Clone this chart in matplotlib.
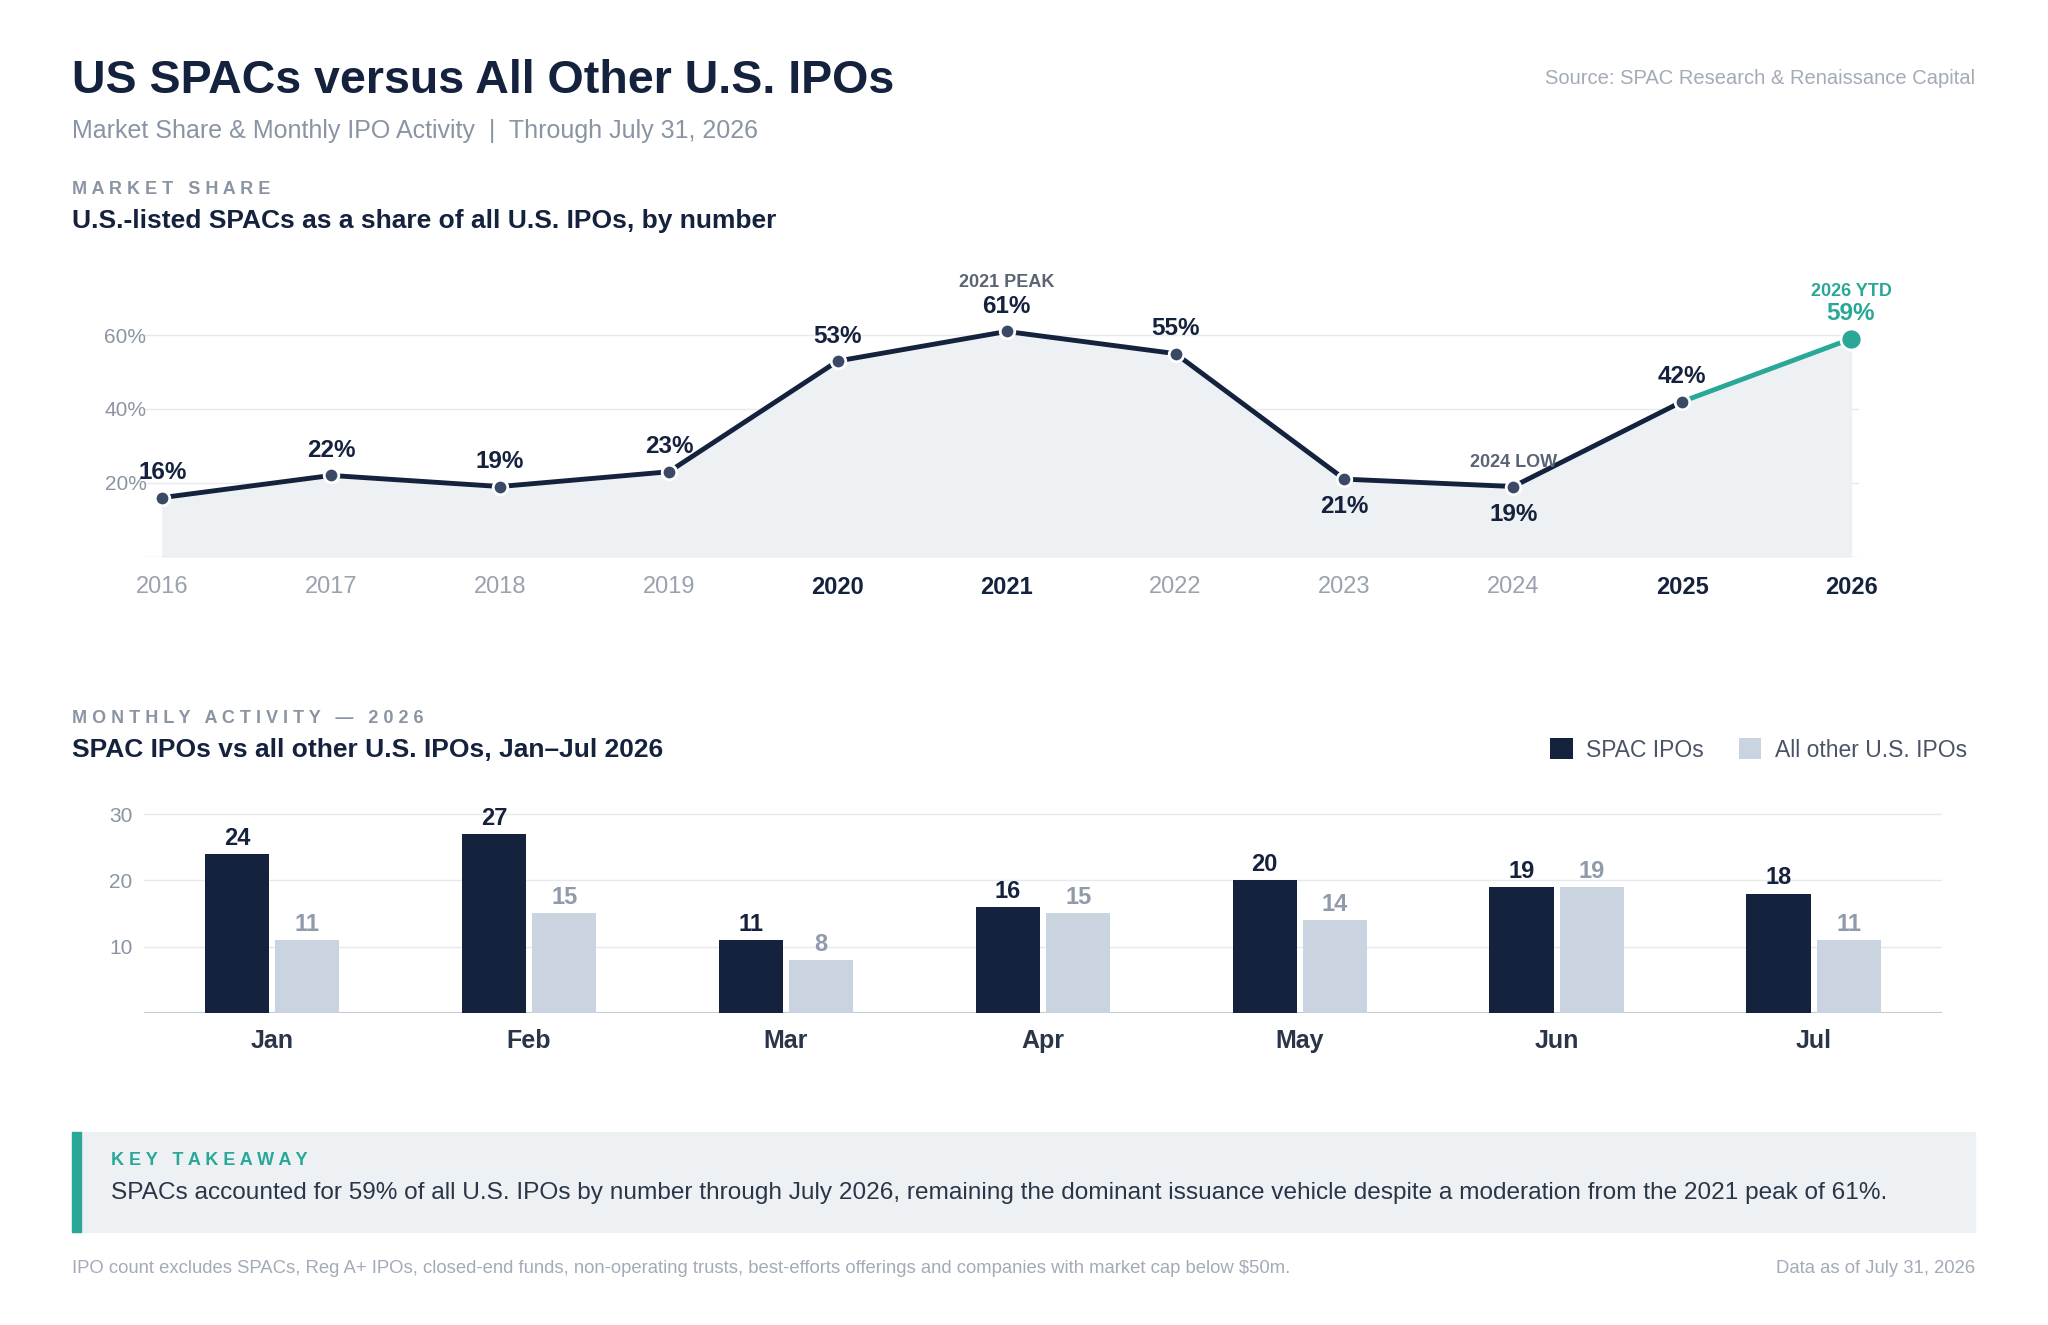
import matplotlib
matplotlib.use("Agg")
import matplotlib.pyplot as plt
from matplotlib.patches import Rectangle

plt.rcParams['font.family'] = ['Liberation Sans', 'DejaVu Sans']

years = [2016, 2017, 2018, 2019, 2020, 2021, 2022, 2023, 2024, 2025, 2026]
share = [16, 22, 19, 23, 53, 61, 55, 21, 19, 42, 59]
bold_years = [2020, 2021, 2025, 2026]
months = ["Jan", "Feb", "Mar", "Apr", "May", "Jun", "Jul"]
spac = [24, 27, 11, 16, 20, 19, 18]
other = [11, 15, 8, 15, 14, 19, 11]

NAVY = "#15223d"
TEAL = "#2aa897"
GRAY = "#8a94a3"
LIGHT = "#c9d4e0"
FILL = "#eef1f4"
W, H = 1568, 1014

fig = plt.figure(figsize=(20.48, 13.25), dpi=100)
fig.patch.set_facecolor("white")

def T(x, y, s, **kw):
    fig.text(x / W, 1 - y / H, s, **kw)

T(55, 62, "US SPACs versus All Other U.S. IPOs", fontsize=33.5, fontweight="bold", color=NAVY, va="center")
T(55, 100, "Market Share & Monthly IPO Activity  |  Through July 31, 2026", fontsize=18, color=GRAY, va="center")
T(1512, 60, "Source: SPAC Research & Renaissance Capital", fontsize=14.5, color="#a3abb7", va="center", ha="right")
T(55, 145, "M A R K E T   S H A R E", fontsize=13, fontweight="bold", color=GRAY, va="center")
T(55, 169, "U.S.-listed SPACs as a share of all U.S. IPOs, by number", fontsize=19, fontweight="bold", color=NAVY, va="center")

# line chart
ax = fig.add_axes([110 / W, 1 - 426 / H, 1313 / W, 226 / H])
ax.set_xlim(2015.89, 2026.045)
ax.set_ylim(0, 80)
for s in ax.spines.values():
    s.set_visible(False)
ax.set_yticks([20, 40, 60])
ax.set_yticklabels(["20%", "40%", "60%"])
ax.tick_params(axis="y", length=0, labelsize=15, labelcolor=GRAY, pad=-2)
ax.yaxis.grid(True, color="#e6e9ed", lw=1)
ax.set_axisbelow(True)
ax.set_xticks(years)
ax.set_xticklabels([str(y) for y in years])
ax.tick_params(axis="x", length=0, labelsize=17, pad=14)
for lab, y in zip(ax.get_xticklabels(), years):
    if y in bold_years:
        lab.set_fontweight("bold"); lab.set_color(NAVY)
    else:
        lab.set_color("#9aa2ae")
ax.fill_between(years, share, 0, color=FILL, zorder=1)
ax.axhline(0, color="#dde1e6", lw=1)
ax.plot(years[:-1], share[:-1], color=NAVY, lw=3.5, zorder=3)
ax.plot(years[-2:], share[-2:], color=TEAL, lw=3.5, zorder=3)
ax.scatter(years[:-1], share[:-1], s=110, color="#3a4a66", edgecolor="white", linewidth=2, zorder=4, clip_on=False)
ax.scatter(years[-1:], share[-1:], s=230, color=TEAL, edgecolor="white", linewidth=2, zorder=4, clip_on=False)
for y, v in zip(years, share):
    below = y in (2023, 2024)
    col = TEAL if y == 2026 else NAVY
    ax.annotate(f"{v}%", (y, v), xytext=(0, -20 if below else 18), textcoords="offset points",
                ha="center", va="center", fontsize=17.5, fontweight="bold", color=col)
ax.annotate("2021 PEAK", (2021, 61), xytext=(0, 35), textcoords="offset points", ha="center", va="center",
            fontsize=13, fontweight="bold", color="#5a6475")
ax.annotate("2024 LOW", (2024, 19), xytext=(0, 17), textcoords="offset points", ha="center", va="center",
            fontsize=13, fontweight="bold", color="#5a6475")
ax.annotate("2026 YTD", (2026, 59), xytext=(0, 34), textcoords="offset points", ha="center", va="center",
            fontsize=13, fontweight="bold", color=TEAL)

# bar chart
T(55, 550, "M O N T H L Y   A C T I V I T Y   —   2 0 2 6", fontsize=13, fontweight="bold", color=GRAY, va="center")
T(55, 574, "SPAC IPOs vs all other U.S. IPOs, Jan–Jul 2026", fontsize=19, fontweight="bold", color=NAVY, va="center")
bx = fig.add_axes([110 / W, 1 - 775 / H, 1377 / W, 162 / H])
bx.set_xlim(-0.5, 6.5)
bx.set_ylim(0, 32)
for s in bx.spines.values():
    s.set_visible(False)
bx.axhline(0, color="#c4cad2", lw=1.5)
bx.set_yticks([10, 20, 30])
bx.tick_params(axis="y", length=0, labelsize=15, labelcolor=GRAY, pad=8)
bx.yaxis.grid(True, color="#e6e9ed", lw=1)
bx.set_axisbelow(True)
xs = list(range(len(months)))
bw = 0.25
off = 0.137
b1 = bx.bar([x - off for x in xs], spac, width=bw, color=NAVY, label="SPAC IPOs", zorder=2)
b2 = bx.bar([x + off for x in xs], other, width=bw, color=LIGHT, label="All other U.S. IPOs", zorder=2)
for x, a, b in zip(xs, spac, other):
    bx.annotate(str(a), (x - off, a), xytext=(0, 3), textcoords="offset points", ha="center", va="bottom",
                fontsize=17, fontweight="bold", color=NAVY)
    bx.annotate(str(b), (x + off, b), xytext=(0, 3), textcoords="offset points", ha="center", va="bottom",
                fontsize=17, fontweight="bold", color="#8f9aab")
bx.set_xticks(xs)
bx.set_xticklabels(months)
bx.tick_params(axis="x", length=0, labelsize=18, labelcolor="#2b3548", pad=12)
for lab in bx.get_xticklabels():
    lab.set_fontweight("bold")
fig.legend(handles=[b1, b2], loc="center right", bbox_to_anchor=(1522 / W, 1 - 574 / H), ncol=2, frameon=False,
           fontsize=16.5, labelcolor="#4a5466", handlelength=1.0, handleheight=1.0, columnspacing=1.5, handletextpad=0.6)

# takeaway box
fig.patches.append(Rectangle((55 / W, 1 - 943 / H), 1457 / W, 77 / H, transform=fig.transFigure, color=FILL, zorder=0))
fig.patches.append(Rectangle((55 / W, 1 - 943 / H), 7 / W, 77 / H, transform=fig.transFigure, color=TEAL, zorder=1))
T(85, 888, "K E Y   T A K E A W A Y", fontsize=13, fontweight="bold", color=TEAL, va="center")
T(85, 913, "SPACs accounted for 59% of all U.S. IPOs by number through July 2026, remaining the dominant issuance vehicle despite a moderation from the 2021 peak of 61%.",
  fontsize=17.6, color="#2b3548", va="center")
T(55, 971, "IPO count excludes SPACs, Reg A+ IPOs, closed-end funds, non-operating trusts, best-efforts offerings and companies with market cap below $50m.",
  fontsize=13.3, color="#a3abb7", va="center")
T(1512, 971, "Data as of July 31, 2026", fontsize=13.3, color="#a3abb7", va="center", ha="right")

fig.savefig("out.png", dpi=100, facecolor="white")
